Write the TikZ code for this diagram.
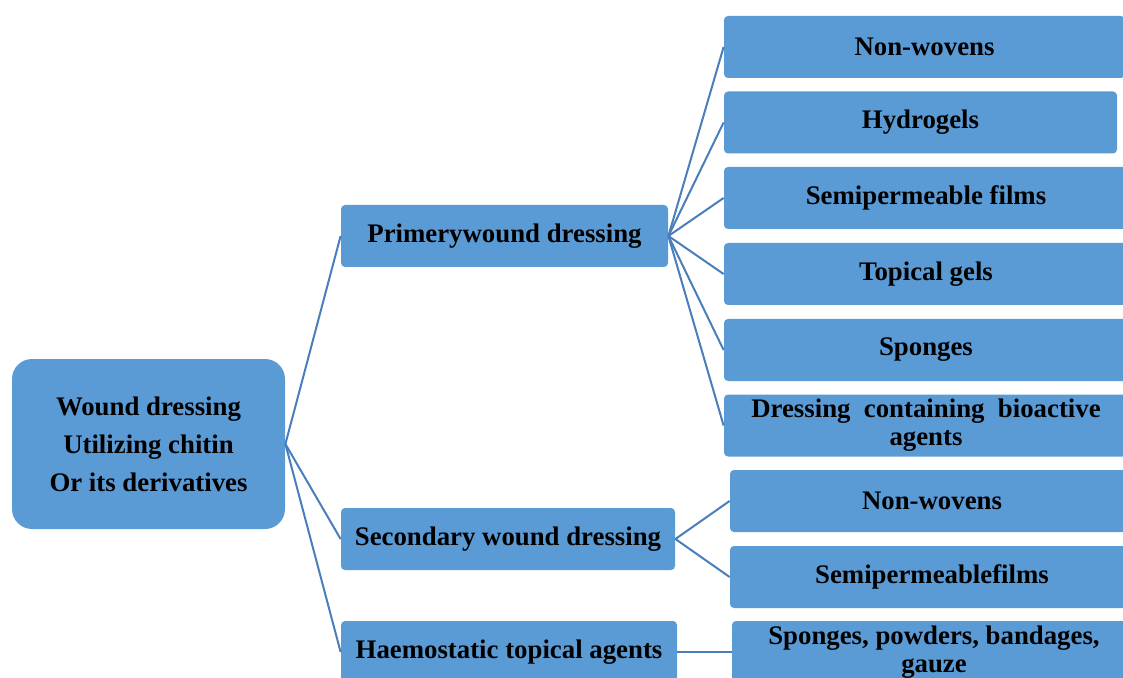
\documentclass[tikz,border=0pt]{standalone}
\usepackage{fontspec}
\setmainfont{Liberation Serif}
\definecolor{boxblue}{HTML}{5B9BD5}
\definecolor{lineblue}{HTML}{4A7EBB}
\begin{document}
\begin{tikzpicture}[x=0.5pt,y=-0.5pt,
  box/.style={fill=boxblue,draw=none,rounded corners=2pt,inner sep=0pt,
    minimum height=31pt,align=center,
    font=\fontsize{13.4}{14}\selectfont\bfseries},
  conn/.style={draw=lineblue,line width=1pt}]
\useasboundingbox (0,0) rectangle (1123,678);
\clip (0,0) rectangle (1123,678);
\node[box,minimum width=136.5pt,minimum height=85pt,rounded corners=10pt,
  font=\fontsize{13.4}{19}\selectfont\bfseries] (root) at (148.5,444)
  {Wound dressing\\Utilizing chitin\\Or its derivatives};
\node[box,minimum width=163.5pt] (prim) at (504.5,236) {Primerywound dressing};
\node[box,minimum width=167pt] (sec) at (508,539) {Secondary wound dressing};
\node[box,minimum width=168pt] (hae) at (509,652) {Haemostatic topical agents};
\node[box,minimum width=200.5pt] (p1) at (924.5,47) {Non-wovens};
\node[box,minimum width=196.5pt] (p2) at (920.5,122.5) {Hydrogels};
\node[box,minimum width=202pt] (p3) at (926,198) {Semipermeable films};
\node[box,minimum width=202pt] (p4) at (926,274) {Topical gels};
\node[box,minimum width=202pt] (p5) at (926,350) {Sponges};
\node[box,minimum width=202pt] (p6) at (926,425.5) {\raisebox{-1.5pt}{Dressing\ \ containing\ \ bioactive}\\\raisebox{-1.5pt}{agents}};
\node[box,minimum width=202pt] (s1) at (932,501) {Non-wovens};
\node[box,minimum width=202pt] (s2) at (932,577) {Semipermeablefilms};
\node[box,minimum width=202pt] (h1) at (934,652) {\raisebox{-1.5pt}{Sponges, powders, bandages,}\\\raisebox{-1.5pt}{gauze}};
\foreach \t in {prim,sec,hae} \draw[conn] (root.east) -- (\t.west);
\foreach \t in {p1,p2,p3,p4,p5,p6} \draw[conn] (prim.east) -- (\t.west);
\foreach \t in {s1,s2} \draw[conn] (sec.east) -- (\t.west);
\draw[conn] (hae.east) -- (h1.west);
\end{tikzpicture}
\end{document}
